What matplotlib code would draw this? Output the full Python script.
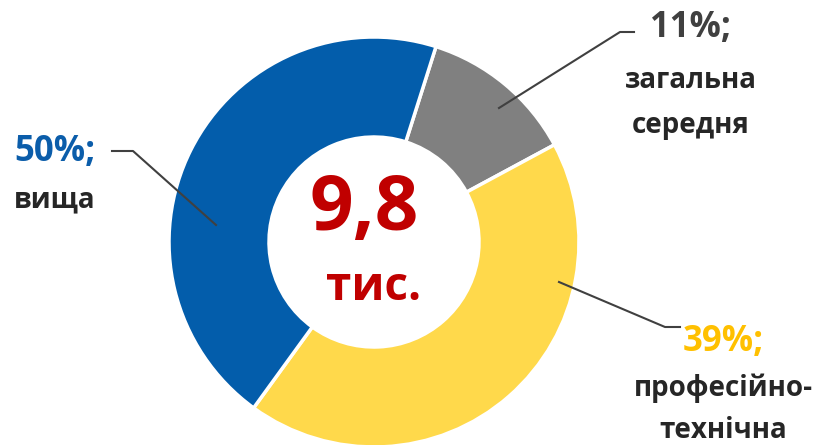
import matplotlib
matplotlib.use('Agg')
import matplotlib.pyplot as plt

# slice sizes (thousand people), clockwise from the top
categories = ['загальна\nсередня', 'професійно-\nтехнічна', 'вища']
values = [1.2, 4.2, 4.4]
pct_labels = ['11%;', '39%;', '50%;']
total_label = '9,8'
unit_label = 'тис.'

colours = ['#808080', '#FFD94B', '#035DAB']
pct_colours = ['#404040', '#FFC000', '#0B5DAA']
TXT = '#262626'

plt.rcParams['font.family'] = ['Open Sans', 'DejaVu Sans']

W, H = 815, 445
fig = plt.figure(figsize=(W / 100, H / 100), dpi=100)
ax = fig.add_axes([0, 0, 1, 1])

cx, cy, R = 374, H - 242, 205
ax.pie(values, colors=colours, startangle=72.4, counterclock=False,
       center=(cx, cy), radius=R,
       wedgeprops=dict(width=100, edgecolor='white', linewidth=2.5))
ax.set_xlim(0, W); ax.set_ylim(0, H)
ax.set_aspect('equal'); ax.axis('off')

def py(y):  # pixel row -> data y
    return H - y

# centre text
ax.text(cx - 10, py(210), total_label, color='#C00000', fontsize=55,
        fontweight='bold', ha='center', va='center')
ax.text(cx, py(287), unit_label, color='#C00000', fontsize=33,
        fontweight='bold', ha='center', va='center')

# leader lines: (points in pixel coords)
leaders = [
    [(499, 108), (620, 32), (634, 32)],
    [(559, 282), (665, 327), (680, 327)],
    [(216, 225), (133, 151), (112, 151)],
]
for pts in leaders:
    ax.plot([p[0] for p in pts], [py(p[1]) for p in pts], color='#404040', lw=1.5)

# outer labels: (x centre, y of pct, y of first text line, y of second)
label_pos = [(691, 28, 80, 125), (723, 342, 388, 430), (55, 152, 200, None)]
for (x, yp, y1, y2), cat, pct, pc in zip(label_pos, categories, pct_labels, pct_colours):
    ax.text(x, py(yp), pct, color=pc, fontsize=25, fontweight='bold',
            ha='center', va='center')
    lines = cat.split('\n')
    ax.text(x, py(y1), lines[0], color=TXT, fontsize=20, fontweight='bold',
            ha='center', va='center')
    if y2 is not None:
        ax.text(x, py(y2), lines[1], color=TXT, fontsize=20, fontweight='bold',
                ha='center', va='center')

fig.savefig('out.png', dpi=100)
